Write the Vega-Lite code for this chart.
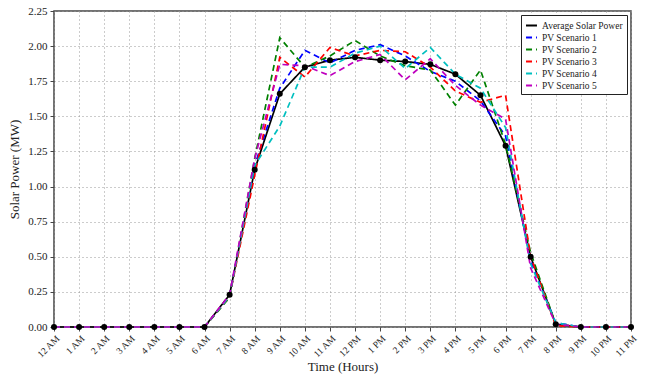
{
  "$schema": "https://vega.github.io/schema/vega-lite/v6.json",
  "width": 577,
  "height": 316,
  "autosize": {"type": "none"},
  "padding": {"left": 54, "top": 11, "right": 23, "bottom": 50},
  "background": "white",
  "config": {
    "font": "Liberation Serif",
    "view": {"stroke": "#444", "strokeWidth": 1.5},
    "axis": {
      "labelFont": "Liberation Serif",
      "titleFont": "Liberation Serif",
      "labelFontSize": 11,
      "titleFontSize": 13,
      "titleFontWeight": "normal",
      "labelColor": "#222",
      "titleColor": "#222",
      "grid": true,
      "gridColor": "#999",
      "gridDash": [1, 3],
      "gridWidth": 1,
      "domain": false,
      "tickColor": "#444",
      "tickSize": 4
    },
    "legend": {
      "labelFont": "Liberation Serif",
      "labelFontSize": 9.5,
      "labelColor": "#222",
      "strokeColor": "#222",
      "fillColor": "white",
      "padding": 4,
      "rowPadding": 1,
      "offset": 4,
      "symbolType": "stroke",
      "symbolSize": 120,
      "symbolStrokeWidth": 2
    }
  },
  "data": {
    "values": [
      {"hour": 0, "avg": 0, "s1": 0, "s2": 0, "s3": 0, "s4": 0, "s5": 0},
      {"hour": 1, "avg": 0, "s1": 0, "s2": 0, "s3": 0, "s4": 0, "s5": 0},
      {"hour": 2, "avg": 0, "s1": 0, "s2": 0, "s3": 0, "s4": 0, "s5": 0},
      {"hour": 3, "avg": 0, "s1": 0, "s2": 0, "s3": 0, "s4": 0, "s5": 0},
      {"hour": 4, "avg": 0, "s1": 0, "s2": 0, "s3": 0, "s4": 0, "s5": 0},
      {"hour": 5, "avg": 0, "s1": 0, "s2": 0, "s3": 0, "s4": 0, "s5": 0},
      {"hour": 6, "avg": 0, "s1": 0, "s2": 0, "s3": 0, "s4": 0, "s5": 0},
      {"hour": 7, "avg": 0.23, "s1": 0.22, "s2": 0.21, "s3": 0.22, "s4": 0.22, "s5": 0.23},
      {"hour": 8, "avg": 1.12, "s1": 1.15, "s2": 1.2, "s3": 1.08, "s4": 1.15, "s5": 1.2},
      {"hour": 9, "avg": 1.66, "s1": 1.7, "s2": 2.06, "s3": 1.92, "s4": 1.43, "s5": 1.87},
      {"hour": 10, "avg": 1.85, "s1": 1.97, "s2": 1.85, "s3": 1.78, "s4": 1.85, "s5": 1.86},
      {"hour": 11, "avg": 1.9, "s1": 1.88, "s2": 1.93, "s3": 1.99, "s4": 1.85, "s5": 1.79},
      {"hour": 12, "avg": 1.92, "s1": 1.97, "s2": 2.04, "s3": 1.93, "s4": 1.95, "s5": 1.89},
      {"hour": 13, "avg": 1.9, "s1": 2.01, "s2": 1.93, "s3": 1.97, "s4": 2.0, "s5": 1.94},
      {"hour": 14, "avg": 1.89, "s1": 1.93, "s2": 1.86, "s3": 1.96, "s4": 1.84, "s5": 1.76},
      {"hour": 15, "avg": 1.87, "s1": 1.82, "s2": 1.83, "s3": 1.85, "s4": 1.99, "s5": 1.91},
      {"hour": 16, "avg": 1.8, "s1": 1.75, "s2": 1.58, "s3": 1.68, "s4": 1.8, "s5": 1.72},
      {"hour": 17, "avg": 1.65, "s1": 1.61, "s2": 1.83, "s3": 1.6, "s4": 1.7, "s5": 1.58},
      {"hour": 18, "avg": 1.29, "s1": 1.36, "s2": 1.3, "s3": 1.65, "s4": 1.42, "s5": 1.48},
      {"hour": 19, "avg": 0.5, "s1": 0.47, "s2": 0.53, "s3": 0.5, "s4": 0.45, "s5": 0.42},
      {"hour": 20, "avg": 0.02, "s1": 0.03, "s2": 0.02, "s3": 0.01, "s4": 0.03, "s5": 0.02},
      {"hour": 21, "avg": 0, "s1": 0, "s2": 0, "s3": 0, "s4": 0, "s5": 0},
      {"hour": 22, "avg": 0, "s1": 0, "s2": 0, "s3": 0, "s4": 0, "s5": 0},
      {"hour": 23, "avg": 0, "s1": 0, "s2": 0, "s3": 0, "s4": 0, "s5": 0}
    ]
  },
  "transform": [
    {"fold": ["avg", "s1", "s2", "s3", "s4", "s5"], "as": ["key", "power"]},
    {"lookup": "key", "from": {"data": {"values": [
      {"key": "avg", "series": "Average Solar Power"},
      {"key": "s1", "series": "PV Scenario 1"},
      {"key": "s2", "series": "PV Scenario 2"},
      {"key": "s3", "series": "PV Scenario 3"},
      {"key": "s4", "series": "PV Scenario 4"},
      {"key": "s5", "series": "PV Scenario 5"}
    ]}, "key": "key", "fields": ["series"]}}
  ],
  "encoding": {
    "x": {
      "field": "hour", "type": "quantitative",
      "scale": {"domain": [0, 23], "nice": false},
      "axis": {
        "title": "Time (Hours)",
        "values": [0,1,2,3,4,5,6,7,8,9,10,11,12,13,14,15,16,17,18,19,20,21,22,23],
        "labelAngle": -45,
        "labelAlign": "right",
        "labelBaseline": "top",
        "labelOverlap": false,
        "labelFontSize": 9.5,
        "labelExpr": "(datum.value % 12 == 0 ? 12 : datum.value % 12) + (datum.value < 12 ? ' AM' : ' PM')",
        "titleY": 33,
        "titleBaseline": "top",
        "labelPadding": 2
      }
    },
    "y": {
      "field": "power", "type": "quantitative",
      "scale": {"domain": [0, 2.25], "nice": false},
      "axis": {
        "title": "Solar Power (MW)",
        "values": [0, 0.25, 0.5, 0.75, 1, 1.25, 1.5, 1.75, 2, 2.25],
        "format": ".2f",
        "labelPadding": 3,
        "titlePadding": 6
      }
    },
    "color": {
      "field": "series", "type": "nominal",
      "scale": {
        "domain": ["Average Solar Power", "PV Scenario 1", "PV Scenario 2", "PV Scenario 3", "PV Scenario 4", "PV Scenario 5"],
        "range": ["#000000", "#0000ff", "#008000", "#ff0000", "#00bfbf", "#bf00bf"]
      },
      "legend": {"title": null, "orient": "top-right"}
    }
  },
  "layer": [
    {
      "mark": {"type": "line", "strokeWidth": 1.7},
      "encoding": {
        "strokeDash": {
          "field": "series", "type": "nominal",
          "scale": {
            "domain": ["Average Solar Power", "PV Scenario 1", "PV Scenario 2", "PV Scenario 3", "PV Scenario 4", "PV Scenario 5"],
            "range": [[1, 0], [6, 4], [6, 4], [6, 4], [6, 4], [6, 4]]
          },
          "legend": {"title": null, "orient": "top-right"}
        },
        "order": {"field": "key", "sort": "descending"}
      }
    },
    {
      "transform": [{"filter": "datum.key == 'avg'"}],
      "mark": {"type": "point", "filled": true, "size": 36, "opacity": 1},
      "encoding": {}
    }
  ]
}
